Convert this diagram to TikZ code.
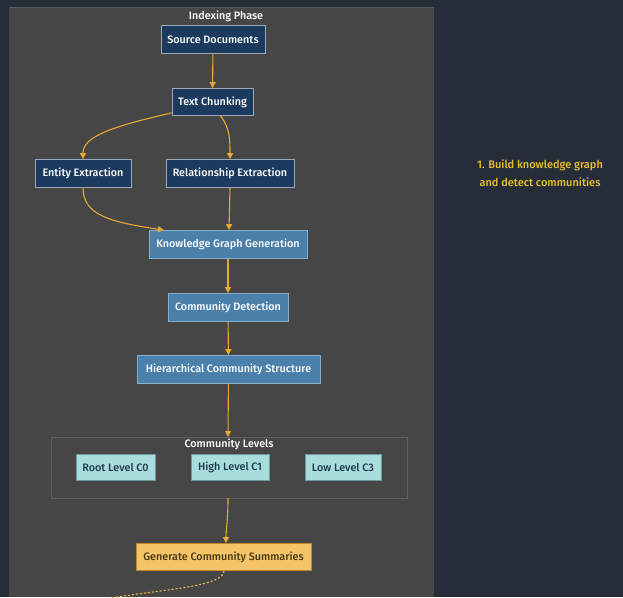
\documentclass[tikz,border=0pt]{standalone}
\usepackage{fontspec}
\setmainfont{Fira Sans Medium}
\usetikzlibrary{arrows.meta}
\definecolor{outerbg}{HTML}{262C38}
\definecolor{panelbg}{HTML}{464646}
\definecolor{panelline}{HTML}{555A60}
\definecolor{navyfill}{HTML}{1C3A5E}
\definecolor{navyline}{HTML}{9AA8B8}
\definecolor{bluefill}{HTML}{4A80AA}
\definecolor{blueline}{HTML}{86B0D0}
\definecolor{cyanfill}{HTML}{A9DCDC}
\definecolor{cyanline}{HTML}{6E9A9A}
\definecolor{cyantext}{HTML}{1E3A4A}
\definecolor{yelfill}{HTML}{F4C566}
\definecolor{yelline}{HTML}{C08A2A}
\definecolor{yeltext}{HTML}{4A3810}
\definecolor{arrowc}{HTML}{E8A832}
\definecolor{notec}{HTML}{E8C226}
\definecolor{grpline}{HTML}{5E5E5E}
\begin{document}
\begin{tikzpicture}[x=1pt,y=-1pt,
  base/.style={draw, line width=0.8pt, inner sep=0pt, font=\fontsize{10.8}{12}\selectfont, align=center},
  navy/.style={base, fill=navyfill, draw=navyline, text=white},
  blue/.style={base, fill=bluefill, draw=blueline, text=white},
  cyan/.style={base, fill=cyanfill, draw=cyanline, text=cyantext},
  yel/.style={base, fill=yelfill, draw=yelline, text=yeltext},
  flow/.style={draw=arrowc, line width=1.1pt, -{Triangle[length=6pt,width=6pt]}},
  lbl/.style={text=white, font=\fontsize{10.8}{12}\selectfont},
]
\useasboundingbox (0,0) rectangle (623,597);
\fill[outerbg] (0,0) rectangle (623,597);
\fill[panelbg] (9,7) rectangle (434,597);
\draw[panelline, line width=0.6pt] (9,7) -- (434,7);

\node[lbl] (title) at (226,16) {Indexing Phase};

% group
\draw[grpline, line width=0.8pt] (51,437) rectangle (407,498);
\coordinate (grptop) at (228,437);
\coordinate (grpbot) at (228,498);
\node[lbl] (grptitle) at (229,444) {Community Levels};

\node[navy, minimum width=104pt, minimum height=28pt] (sd) at (213,39.5) {Source Documents};
\node[navy, minimum width=81pt, minimum height=27pt] (tc) at (212.5,102) {Text Chunking};
\node[navy, minimum width=96pt, minimum height=28pt] (ee) at (83,173.5) {Entity Extraction};
\node[navy, minimum width=128pt, minimum height=28pt] (re) at (230,173.5) {Relationship Extraction};
\node[blue, minimum width=158pt, minimum height=28pt] (kg) at (228,244.5) {Knowledge Graph Generation};
\node[blue, minimum width=120pt, minimum height=28pt] (cd) at (228,307.5) {Community Detection};
\node[blue, minimum width=183pt, minimum height=28pt] (hc) at (228.5,369.5) {Hierarchical Community Structure};
\node[cyan, minimum width=79pt, minimum height=26pt] (c0) at (115.5,467.5) {Root Level C0};
\node[cyan, minimum width=78pt, minimum height=26pt] (c1) at (230,467.5) {High Level C1};
\node[cyan, minimum width=76pt, minimum height=26pt] (c3) at (343,467.5) {Low Level C3};
\node[yel, minimum width=175pt, minimum height=27pt] (gs) at (223.5,557) {Generate Community Summaries};

\node[text=notec, font=\fontsize{11}{18}\selectfont, align=center] (note) at (540,173) {1. Build knowledge graph\\and detect communities};

\coordinate (offend) at (100,600);
\coordinate (tcl) at ([yshift=3pt]tc.south west);

\draw[flow] (sd) -- (tc);
\draw[flow] (tcl) .. controls (105,128) and (83,138) .. (ee.north);
\draw[flow] ([xshift=8pt]tc.south) .. controls (230,128) and (230,140) .. (re.north);
\draw[flow] (ee.south) .. controls (83,215) and (110,222) .. ([xshift=-64pt]kg.north);
\draw[flow] (re.south) -- ([xshift=1pt]kg.north);
\draw[flow] (kg) -- (cd);
\draw[flow] (cd) -- (hc);
\draw[flow] (hc) -- (grptop);
\draw[flow] (grpbot) .. controls (228,520) and (226,530) .. ([xshift=2.5pt]gs.north);
\draw[arrowc!80!white, line width=1.1pt, dash pattern=on 2pt off 2pt] ([xshift=0.5pt]gs.south) .. controls (224,588) and (150,590) .. (offend);
\end{tikzpicture}
\end{document}
